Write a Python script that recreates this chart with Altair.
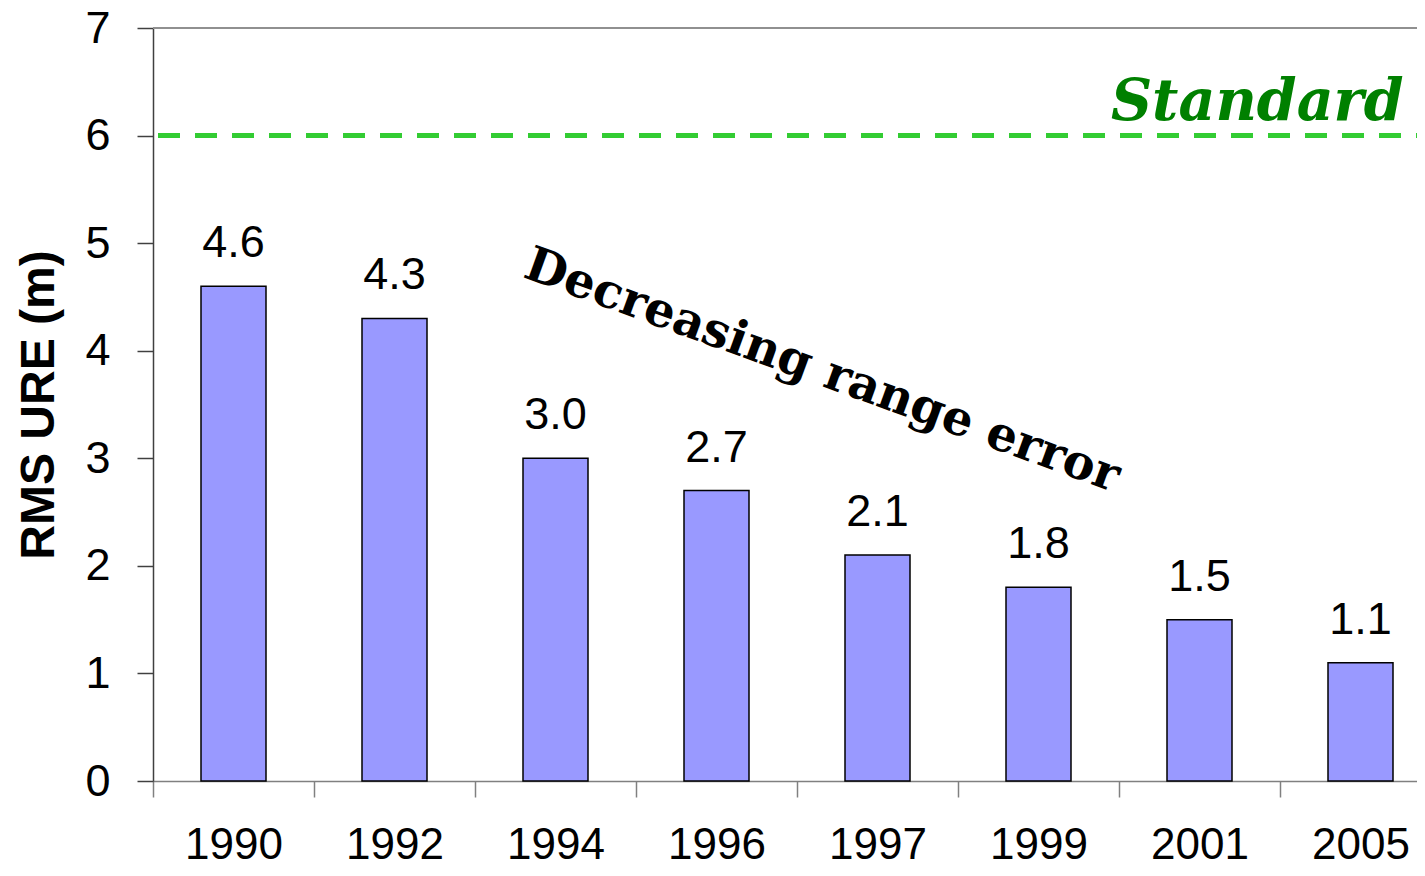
import altair as alt
import pandas as pd

# ---- data ----
years = ["1990", "1992", "1994", "1996", "1997", "1999", "2001", "2005"]
rms_ure = [4.6, 4.3, 3.0, 2.7, 2.1, 1.8, 1.5, 1.1]
value_labels = ["4.6", "4.3", "3.0", "2.7", "2.1", "1.8", "1.5", "1.1"]
y_ticks = [0, 1, 2, 3, 4, 5, 6, 7]
standard_level = 6.0
y_max = 7

standard_text = ["Standard"]
standard_year = ["2005"]
standard_y = [6.145]

trend_text = ["Decreasing range error"]
trend_year = ["1994"]
trend_y = [4.572]

# ---- tables ----
bars_df = pd.DataFrame({"year": years, "rms": rms_ure, "label": value_labels})
std_df = pd.DataFrame({"year": standard_year, "y": standard_y, "t": standard_text})
trend_df = pd.DataFrame({"year": trend_year, "y": trend_y, "t": trend_text})

W, H = 1264, 753
SANS = "Liberation Sans"
SERIF = "DejaVu Serif"

x_scale = alt.Scale(domain=years, range=[0, 1288], paddingInner=0, paddingOuter=0)
y_scale = alt.Scale(domain=[0, y_max], nice=False)

x_axis = alt.Axis(
    title=None, labelAngle=0, labelFont=SANS, labelFontSize=44, labelColor="black",
    labelPadding=26, tickBand="extent", tickSize=16, tickColor="#808080", tickWidth=1.5,
    domainColor="#808080", domainWidth=1.5, labelFlush=False, labelOverlap=False,
)
y_axis = alt.Axis(
    title="RMS URE (m)", titleFont=SANS, titleFontSize=48, titleFontWeight="bold",
    titleColor="black", titlePadding=21, values=y_ticks, format="d",
    labelFont=SANS, labelFontSize=45, labelColor="black", labelPadding=27,
    tickSize=16, tickColor="#404040", tickWidth=1.5, domainColor="#404040",
    domainWidth=1.5, grid=False,
)

x_enc = alt.X("year:N", scale=x_scale, sort=years, axis=x_axis)

bars = alt.Chart(bars_df).mark_bar(
    fill="#9999FF", stroke="black", strokeWidth=1.5, width=65
).encode(
    x=x_enc,
    y=alt.Y("rms:Q", scale=y_scale, axis=y_axis),
)

values = alt.Chart(bars_df).mark_text(
    font=SANS, fontSize=45, color="black", baseline="alphabetic", align="center", dy=-29
).encode(x=alt.X("year:N", sort=years), y=alt.Y("rms:Q"), text="label:N")

top_rule = alt.Chart(bars_df).mark_rule(color="#909090", strokeWidth=1.5).encode(
    y=alt.datum(y_max), x=alt.value(0), x2=alt.value(1288)
)

std_rule = alt.Chart(bars_df).mark_rule(
    color="#33CC33", strokeWidth=4, strokeDash=[22, 15], strokeDashOffset=32
).encode(y=alt.datum(standard_level), x=alt.value(0), x2=alt.value(1288))

std_label = alt.Chart(std_df).mark_text(
    font=SERIF, fontSize=57, fontWeight="bold", fontStyle="italic", color="#008000",
    align="right", baseline="alphabetic", dx=43,
).encode(x=alt.X("year:N", sort=years), y=alt.Y("y:Q"), text="t:N")

trend_label = alt.Chart(trend_df).mark_text(
    font=SERIF, fontSize=48, fontWeight="bold", color="black",
    align="left", baseline="alphabetic", angle=20, dx=-36,
).encode(x=alt.X("year:N", sort=years), y=alt.Y("y:Q"), text="t:N")

chart = alt.layer(bars, values, top_rule, std_rule, std_label, trend_label).properties(
    width=W, height=H,
    autosize=alt.AutoSizeParams(type="none"),
    padding={"left": 145, "top": 20, "right": 0, "bottom": 87},
).configure_view(stroke=None).configure(background="white")

chart.save("out.html", embed_options={"renderer": "svg", "actions": False})
